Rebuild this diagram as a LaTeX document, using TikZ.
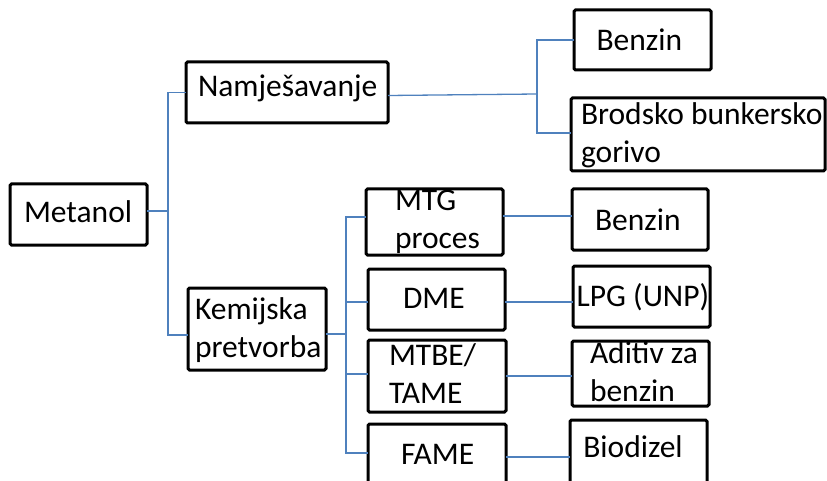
\documentclass[tikz,border=0pt]{standalone}
\usepackage{fontspec}
\setmainfont{Carlito}
\definecolor{conncol}{HTML}{4F81BD}
\tikzset{
  box/.style={draw=black, line width=3pt, rounded corners=1.5pt, inner sep=0pt, outer sep=0pt},
  lbl/.style={anchor=base west, inner sep=0pt, outer sep=0pt, font=\fontsize{31.5}{38}\selectfont},
  conn/.style={draw=conncol, line width=1.3pt},
}
\begin{document}
\begin{tikzpicture}[x=1pt,y=-1pt]
\clip (0,0) rectangle (827,481);
% boxes
\node[box, minimum width=137pt, minimum height=61pt] (met) at (78.5,214.5) {};
\node[box, minimum width=202pt, minimum height=61pt] (nam) at (287,92.5) {};
\node[box, minimum width=138pt, minimum height=82pt] (kem) at (257,329) {};
\node[box, minimum width=137pt, minimum height=60pt] (ben1) at (642.5,40) {};
\node[box, minimum width=254pt, minimum height=73pt] (bro) at (698,134.5) {};
\node[box, minimum width=137pt, minimum height=66pt] (mtg) at (434.5,222) {};
\node[box, minimum width=137pt, minimum height=61pt] (dme) at (436.5,299.5) {};
\node[box, minimum width=138pt, minimum height=72pt] (mtbe) at (437,376) {};
\node[box, minimum width=138pt, minimum height=76pt] (fame) at (437,462) {};
\node[box, minimum width=136pt, minimum height=61pt] (ben2) at (640,219.5) {};
\node[box, minimum width=137pt, minimum height=61pt] (lpg) at (641.5,296.5) {};
\node[box, minimum width=137pt, minimum height=65pt] (adi) at (640.5,373.5) {};
\node[box, minimum width=137pt, minimum height=80pt] (bio) at (638.5,460) {};
% labels
\node[lbl] (tmet) at (24,222.5) {Metanol};
\node[lbl] (tnam) at (198,96.5) {Namješavanje};
\node[lbl] (tben1) at (596.5,50.7) {Benzin};
\node[lbl] (tbroa) at (581,125) {Brodsko bunkersko};
\node[lbl] (tbrob) at (581,163) {gorivo};
\node[lbl] (tmtga) at (395,210.7) {MTG};
\node[lbl] (tmtgb) at (395,248.7) {proces};
\node[lbl] (tkema) at (195,319.3) {Kemijska};
\node[lbl] (tkemb) at (195,357.3) {pretvorba};
\node[lbl] (tdme) at (403,308.3) {DME};
\node[lbl] (tmtbea) at (389,365) {MTBE/};
\node[lbl] (tmtbeb) at (389,403) {TAME};
\node[lbl] (tfame) at (401,464.5) {FAME};
\node[lbl] (tben2) at (595,230) {Benzin};
\node[lbl] (tlpg) at (576.7,306.7) {LPG (UNP)};
\node[lbl] (tadia) at (590,363.3) {Aditiv za};
\node[lbl] (tadib) at (590,401.3) {benzin};
\node[lbl] (tbio) at (583.3,457.3) {Biodizel};
% junctions
\coordinate (j1) at (168,211);
\coordinate (j2) at (346,334);
\coordinate (j3) at (537,94);
% connectors
\draw[conn] ([yshift=3.5pt]met.east) -- (j1);
\draw[conn] (nam.west) -| (j1) |- ([yshift=-6pt]kem.west);
\draw[conn] ([yshift=-3pt]nam.east) -- (j3);
\draw[conn] (ben1.west) -| (j3) |- ([yshift=1.5pt]bro.west);
\draw[conn] ([yshift=-5pt]kem.east) -- (j2);
\draw[conn] ([yshift=5pt]mtg.west) -| (j2) |- ([yshift=9pt]fame.west);
\draw[conn] ([yshift=-2.5pt]dme.west) -| (j2);
\draw[conn] ([yshift=2pt]mtbe.west) -| (j2);
\draw[conn] ([yshift=6pt]mtg.east) -- ([yshift=3.5pt]ben2.west);
\draw[conn] ([yshift=-2.5pt]dme.east) -- ([yshift=-5.5pt]lpg.west);
\draw[conn] (mtbe.east) -- ([yshift=-2.5pt]adi.west);
\draw[conn] ([yshift=5pt]fame.east) -- ([yshift=3pt]bio.west);
\end{tikzpicture}
\end{document}
